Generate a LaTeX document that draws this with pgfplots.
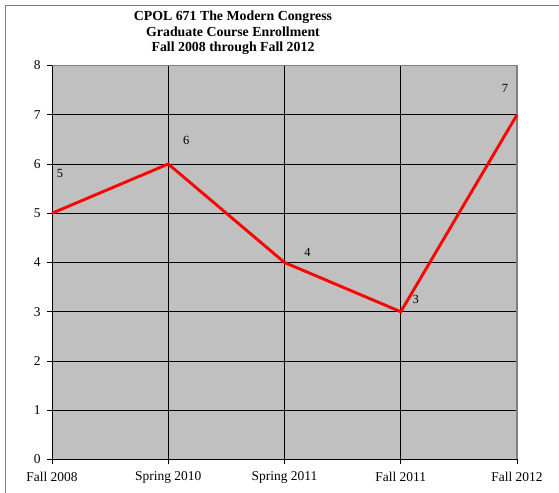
\documentclass[border=0pt]{standalone}
\usepackage{fontspec}
\setmainfont{Liberation Serif}
\usepackage{pgfplots}
\pgfplotsset{compat=1.18}
\definecolor{plotgray}{HTML}{C0C0C0}
\definecolor{framegray}{HTML}{808080}
\begin{document}
\begin{tikzpicture}[x=1bp,y=1bp]
\path[use as bounding box] (0,0) rectangle (559,493);
\draw[framegray,line width=1.2bp] (5.5,0) -- (5.5,487.5) -- (559,487.5);
\node[font=\bfseries\fontsize{13.9}{15.5}\selectfont,align=center] at (233,460) {CPOL 671 The Modern Congress\\Graduate Course Enrollment\\Fall 2008 through Fall 2012};
\begin{axis}[
  at={(52bp,33.5bp)}, anchor=south west,
  scale only axis, width=465bp, height=394bp,
  xmin=0, xmax=4, ymin=0, ymax=8,
  xtick={0,1,2,3,4},
  xticklabels={Fall 2008,Spring 2010,Spring 2011,Fall 2011,Fall 2012},
  ytick={0,...,8},
  xtick pos=bottom, ytick pos=left,
  tick align=outside, major tick length=5bp,
  tick style={black,line width=0.8bp},
  grid=major,
  major grid style={black,line width=0.8bp},
  axis line style={black,line width=0.8bp},
  axis background/.style={fill=plotgray},
  ticklabel style={font=\fontsize{13.5}{15}\selectfont},
  /pgf/number format/assume math mode=true,
  yticklabel style={xshift=-3bp},
  xticklabel style={yshift=-4bp},
  clip=false,
]
\draw[framegray,line width=1.2bp] (rel axis cs:0,1) -- (rel axis cs:1,1) -- (rel axis cs:1,0);
\addplot[red,line width=2.9bp,mark=none] coordinates {(0,5) (1,6) (2,4) (3,3) (4,7)};
\node[font=\fontsize{12.5}{13}\selectfont] at (axis cs:0,5) [xshift=8bp,yshift=40bp] {5};
\node[font=\fontsize{12.5}{13}\selectfont] at (axis cs:1,6) [xshift=18bp,yshift=24bp] {6};
\node[font=\fontsize{12.5}{13}\selectfont] at (axis cs:2,4) [xshift=23bp,yshift=10bp] {4};
\node[font=\fontsize{12.5}{13}\selectfont] at (axis cs:3,3) [xshift=15bp,yshift=12bp] {3};
\node[font=\fontsize{12.5}{13}\selectfont] at (axis cs:4,7) [xshift=-12bp,yshift=26bp] {7};
\end{axis}
\end{tikzpicture}
\end{document}
